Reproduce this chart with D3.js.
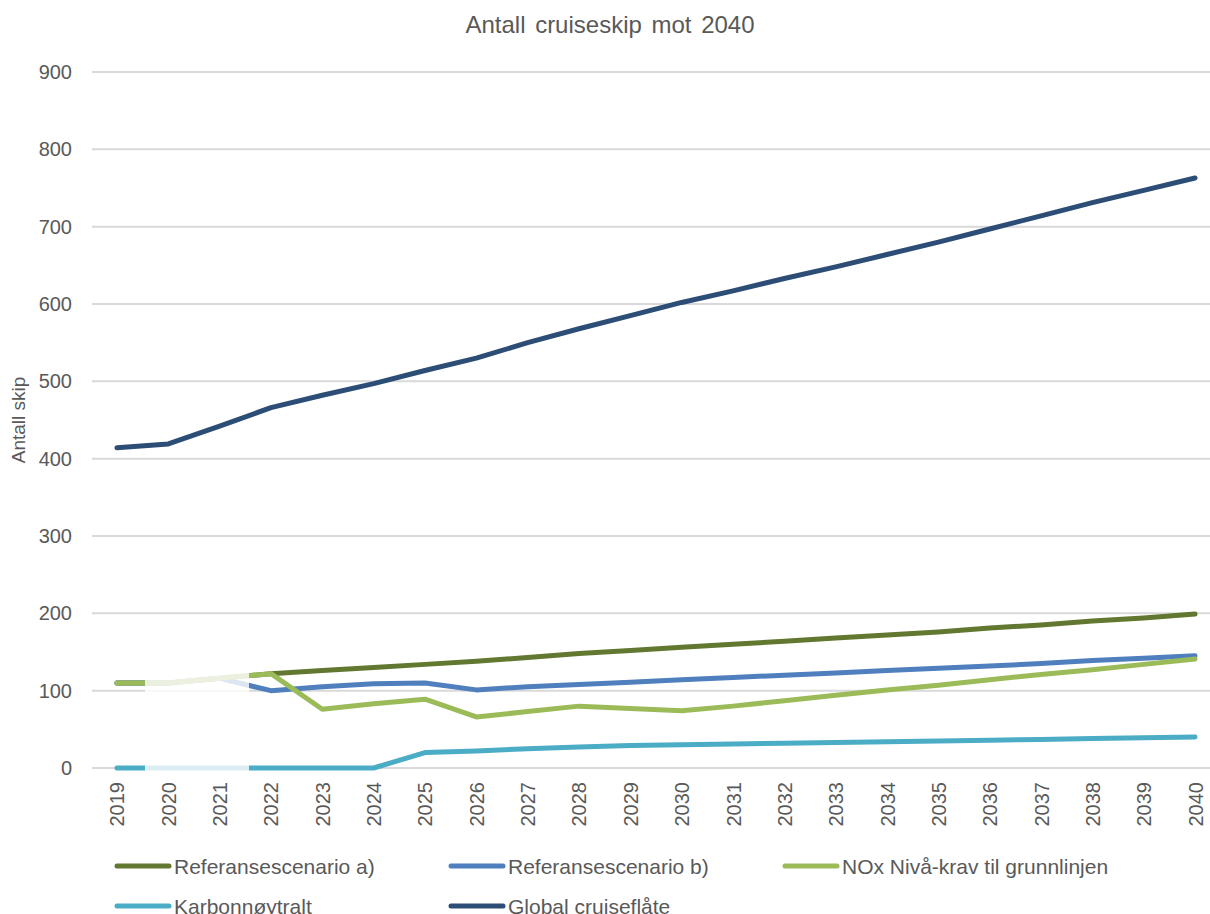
<!DOCTYPE html>
<html><head><meta charset="utf-8">
<script src="https://cdn.jsdelivr.net/npm/d3@7"></script>
<style>body{margin:0;background:#fff;} svg{display:block;font-family:"Liberation Sans",Arial,sans-serif;}</style>
</head><body><svg id="c" width="1210" height="914"></svg>
<script>
const years = d3.range(2019, 2041).map(String);
const yTicks = [0,100,200,300,400,500,600,700,800,900];
const refA =   [110,110,116,122,126,130,134,138,143,148,152,156,160,164,168,172,176,181,185,190,194,199];
const refB =   [110,110,116,100,105,109,110,101,105,108,111,114,117,120,123,126,129,132,135,139,142,145];
const nox =    [110,110,116,122,76,83,89,66,73,80,77,74,80,87,94,101,107,114,121,127,134,141];
const karbon = [0,0,0,0,0,0,20,22,25,27,29,30,31,32,33,34,35,36,37,38,39,40];
const global = [414,419,442,466,482,497,514,530,550,568,585,602,617,633,648,664,680,697,714,731,747,763];
const seriesNames = ["Referansescenario a)","Referansescenario b)","NOx Nivå-krav til grunnlinjen","Karbonnøytralt","Global cruiseflåte"];
const seriesColors = ["#627730","#4F7FBD","#9BBB59","#4BACC6","#2C4D76"];
const seriesData = [refA, refB, nox, karbon, global];

const svg = d3.select("#c");
const x = d3.scalePoint().domain(years).range([91.3, 1220.7]).padding(0.5);
const y = d3.scaleLinear().domain([0,900]).range([768,72]);
const txt = "#595959";
const ff = "Liberation Sans, Arial, sans-serif";

svg.append("text").attr("x",610).attr("y",33).attr("text-anchor","middle")
  .attr("font-size",24).attr("word-spacing",3).attr("fill",txt).text("Antall cruiseskip mot 2040");

// gridlines
svg.append("g").selectAll("line").data(yTicks).join("line")
  .attr("x1",92).attr("x2",1210).attr("y1",d=>y(d)).attr("y2",d=>y(d))
  .attr("stroke","#d9d9d9").attr("stroke-width",2);

// y axis
const ya = svg.append("g").attr("transform","translate(92,0)")
  .call(d3.axisLeft(y).tickValues(yTicks).tickSize(0).tickPadding(20));
ya.select(".domain").remove();
ya.selectAll("text").attr("font-size",20).attr("fill",txt).attr("font-family",ff);

svg.append("text").attr("transform","translate(25,420) rotate(-90)").attr("text-anchor","middle")
  .attr("font-size",19).attr("fill",txt).text("Antall skip");

// x axis
const xa = svg.append("g").attr("transform","translate(0,768)")
  .call(d3.axisBottom(x).tickSize(0).tickPadding(0));
xa.select(".domain").remove();
xa.selectAll("text").attr("font-size",20).attr("fill",txt).attr("font-family",ff)
  .attr("text-anchor","end").attr("dy",null).attr("y",0).attr("x",0)
  .attr("transform","translate(0,14) rotate(-90) translate(0,7)");

// lines
const line = d3.line().x((d,i)=>x(years[i])).y(d=>y(d));
const order = [4,0,1,2,3];
svg.append("g").selectAll("path").data(order).join("path")
  .attr("d",i=>line(seriesData[i])).attr("fill","none")
  .attr("stroke",i=>seriesColors[i]).attr("stroke-width",5)
  .attr("stroke-linecap","round").attr("stroke-linejoin","round");

// faded overlay region
svg.append("rect").attr("x",145).attr("y",655).attr("width",104).attr("height",118)
  .attr("fill","#fff").attr("opacity",0.8);

// legend
const legPos = [[115,866],[449,866],[783,866],[115,906],[449,906]];
const lg = svg.append("g").selectAll("g").data(seriesNames).join("g")
  .attr("transform",(d,i)=>`translate(${legPos[i][0]},${legPos[i][1]})`);
lg.append("line").attr("x1",2).attr("x2",54).attr("y1",0).attr("y2",0)
  .attr("stroke",(d,i)=>seriesColors[i]).attr("stroke-width",5).attr("stroke-linecap","round");
lg.append("text").attr("x",59).attr("y",7.5).attr("font-size",21).attr("fill",txt).text(d=>d);
</script></body></html>
